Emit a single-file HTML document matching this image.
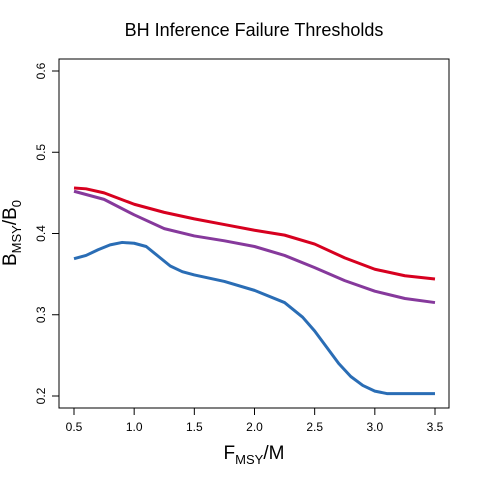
<!DOCTYPE html>
<html><head><meta charset="utf-8"><style>
body{margin:0;background:#fff}
text{font-family:"Liberation Sans",sans-serif}
</style></head><body>
<svg id="chart" width="480" height="480" xmlns="http://www.w3.org/2000/svg">
<text x="254" y="36" font-size="18" text-anchor="middle">BH Inference Failure Thresholds</text>
<rect x="59" y="59" width="390" height="349" fill="none" stroke="#000"/>
<g id="axes"></g>
<g id="series"></g>
<text x="254" y="459" font-size="19" text-anchor="middle">F<tspan font-size="13" dy="5">MSY</tspan><tspan dy="-5">/M</tspan></text>
<text transform="translate(16,233) rotate(-90)" font-size="19" text-anchor="middle">B<tspan font-size="13" dy="5">MSY</tspan><tspan dy="-5">/B</tspan><tspan font-size="13" dy="5">0</tspan></text>
</svg>
<script>
const xTicks=[0.5,1.0,1.5,2.0,2.5,3.0,3.5];
const yTicks=[0.2,0.3,0.4,0.5,0.6];
const redX=[0.5,0.6,0.75,1.0,1.25,1.5,1.75,2.0,2.25,2.5,2.75,3.0,3.25,3.5];
const redY=[0.456,0.455,0.450,0.436,0.426,0.418,0.411,0.404,0.398,0.387,0.370,0.356,0.348,0.344];
const purpleX=[0.5,0.75,1.0,1.25,1.5,1.75,2.0,2.25,2.5,2.75,3.0,3.25,3.5];
const purpleY=[0.452,0.442,0.423,0.406,0.397,0.391,0.384,0.373,0.358,0.342,0.329,0.320,0.315];
const blueX=[0.5,0.6,0.7,0.8,0.9,1.0,1.1,1.2,1.3,1.4,1.5,1.75,2.0,2.25,2.4,2.5,2.6,2.7,2.8,2.9,3.0,3.1,3.25,3.5];
const blueY=[0.369,0.373,0.380,0.386,0.389,0.388,0.384,0.372,0.360,0.353,0.349,0.341,0.330,0.315,0.297,0.280,0.260,0.240,0.224,0.213,0.206,0.203,0.203,0.203];
const sx=v=>74+(v-0.5)*120.33;
const sy=v=>396-(v-0.2)*812.5;
const NS='http://www.w3.org/2000/svg';
const axes=document.getElementById('axes');
function mk(tag,attrs,parent){const e=document.createElementNS(NS,tag);for(const k in attrs)e.setAttribute(k,attrs[k]);parent.appendChild(e);return e;}
xTicks.forEach(t=>{
 const l=mk('line',{x1:sx(t),x2:sx(t),y1:408,y2:415,stroke:'#000'},axes);
 
 
 const tx=mk('text',{x:sx(t),y:431,'font-size':12,'text-anchor':'middle'},axes);
 tx.textContent=t.toFixed(1);
 
 
});
yTicks.forEach(t=>{
 const l=mk('line',{x1:52,x2:59,y1:sy(t),y2:sy(t),stroke:'#000'},axes);
 
 
 const tx=mk('text',{transform:`translate(45,${sy(t)}) rotate(-90)`,'font-size':12,'text-anchor':'middle'},axes);
 tx.textContent=t.toFixed(1);
 
 
});
const ser=document.getElementById('series');
function line(xs,ys,color,name){
 const p=mk('polyline',{points:xs.map((x,i)=>sx(x)+','+sy(ys[i])).join(' '),fill:'none',stroke:color,'stroke-width':3,'stroke-linejoin':'round'},ser);
 
 
}
line(redX,redY,'#d7001f','red-series-line');
line(purpleX,purpleY,'#86399c','purple-series-line');
line(blueX,blueY,'#2a6db5','blue-series-line');
</script>
</body></html>
